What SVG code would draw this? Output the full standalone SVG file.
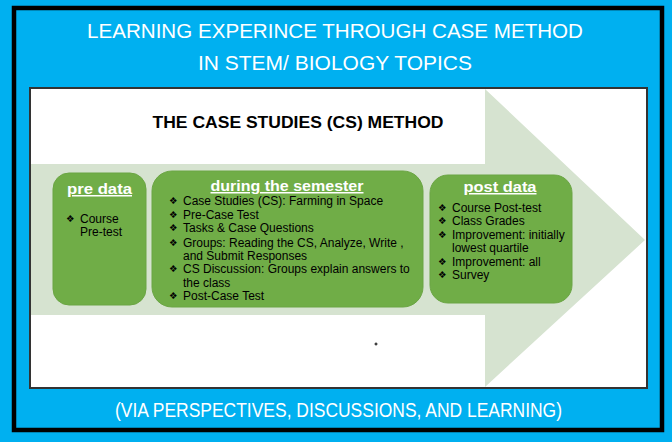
<svg xmlns="http://www.w3.org/2000/svg" width="672" height="442" viewBox="0 0 672 442">
<style>
.title{font-family:"Liberation Sans",Arial,sans-serif;font-size:21px;fill:#ffffff;text-anchor:middle}
.hdr{font-family:"Liberation Sans",Arial,sans-serif;font-weight:bold;font-size:15px;fill:#ffffff;text-anchor:middle;text-decoration:underline}
.item{font-family:"Liberation Sans",Arial,sans-serif;font-size:12px;fill:#000000}
.bul{font-family:"DejaVu Sans",sans-serif;font-size:9.5px;fill:#000000}
.box{fill:#70AD47;stroke:#6BA544;stroke-width:1}
</style>
<rect x="0" y="0" width="672" height="442" fill="#00B0F0"/>
<rect x="14" y="8" width="648" height="422" fill="#00B0F0" stroke="#000000" stroke-width="4.5"/>
<text class="title" x="335" y="38" textLength="496" lengthAdjust="spacingAndGlyphs">LEARNING EXPERINCE THROUGH CASE METHOD</text>
<text class="title" x="335" y="70" textLength="274" lengthAdjust="spacingAndGlyphs">IN STEM/ BIOLOGY TOPICS</text>
<rect x="30" y="88" width="617" height="300" fill="#ffffff" stroke="#333333" stroke-width="2"/>
<g id="arrow">
<path d="M31 164 H485 V89 L645 240 L485 387 V315 H31 Z" fill="#D6E3D0"/>
</g>
<text x="298" y="128" font-family="Liberation Sans,Arial,sans-serif" font-weight="bold" font-size="17" fill="#000000" text-anchor="middle" textLength="291" lengthAdjust="spacingAndGlyphs">THE CASE STUDIES (CS) METHOD</text>
<g id="pre">
<rect class="box" x="53" y="173" width="93" height="132" rx="16"/>
<text class="hdr" x="99.5" y="194" textLength="65" lengthAdjust="spacingAndGlyphs">pre data</text>
<text class="bul" x="66" y="222">❖</text>
<text class="item" x="80" y="223">Course</text>
<text class="item" x="80" y="236">Pre-test</text>
</g>
<g id="during">
<rect class="box" x="152" y="171" width="271" height="136" rx="20"/>
<text class="hdr" x="287" y="191" textLength="153" lengthAdjust="spacingAndGlyphs">during the semester</text>
<text class="bul" x="169" y="204">❖</text><text class="item" x="183" y="205">Case Studies (CS): Farming in Space</text>
<text class="bul" x="169" y="218">❖</text><text class="item" x="183" y="219">Pre-Case Test</text>
<text class="bul" x="169" y="231">❖</text><text class="item" x="183" y="232">Tasks &amp; Case Questions</text>
<text class="bul" x="169" y="246">❖</text><text class="item" x="183" y="247">Groups: Reading the CS, Analyze, Write ,</text>
<text class="item" x="183" y="260">and Submit Responses</text>
<text class="bul" x="169" y="272">❖</text><text class="item" x="183" y="273">CS Discussion: Groups explain answers to</text>
<text class="item" x="183" y="287">the class</text>
<text class="bul" x="169" y="299">❖</text><text class="item" x="183" y="300">Post-Case Test</text>
</g>
<g id="post">
<rect class="box" x="430" y="175" width="142" height="128" rx="18"/>
<text class="hdr" x="500" y="192" textLength="73" lengthAdjust="spacingAndGlyphs">post data</text>
<text class="bul" x="438" y="211">❖</text><text class="item" x="452" y="212">Course Post-test</text>
<text class="bul" x="438" y="224">❖</text><text class="item" x="452" y="225">Class Grades</text>
<text class="bul" x="438" y="238">❖</text><text class="item" x="452" y="239">Improvement: initially</text>
<text class="item" x="452" y="252">lowest quartile</text>
<text class="bul" x="438" y="265">❖</text><text class="item" x="452" y="266">Improvement: all</text>
<text class="bul" x="438" y="278">❖</text><text class="item" x="452" y="279">Survey</text>
</g>
<g id="connectors"></g>
<path d="M374.5 344 H377.5 M376 342.5 V345.5" stroke="#000000" stroke-width="1"/>
<text class="title" x="338.5" y="417" textLength="447" lengthAdjust="spacingAndGlyphs">(VIA PERSPECTIVES, DISCUSSIONS, AND LEARNING)</text>
</svg>
